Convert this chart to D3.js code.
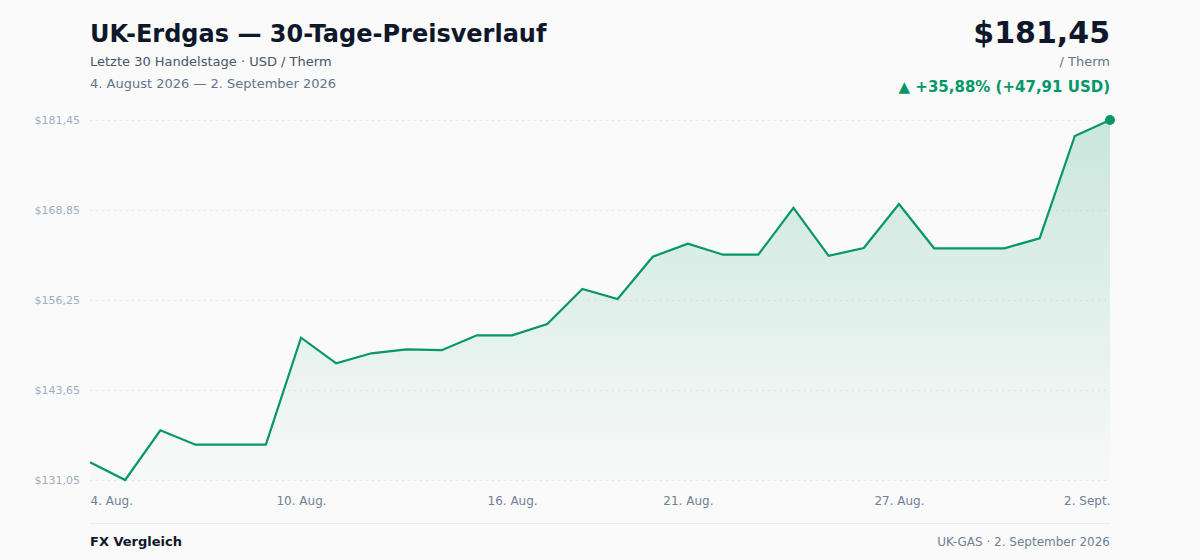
<!DOCTYPE html>
<html>
<head>
<meta charset="utf-8">
<script src="https://cdn.jsdelivr.net/npm/d3@7"></script>
<style>
  html, body { margin: 0; padding: 0; background: #fafafa; }
  svg { display: block; font-family: "DejaVu Sans", sans-serif; }
</style>
</head>
<body>
<svg id="chart"></svg>
<script>
// 30 Handelstage, 4. Aug. bis 2. Sept. 2026
var days = ["4. Aug.", "5. Aug.", "6. Aug.", "7. Aug.", "8. Aug.", "9. Aug.", "10. Aug.",
  "11. Aug.", "12. Aug.", "13. Aug.", "14. Aug.", "15. Aug.", "16. Aug.", "17. Aug.",
  "18. Aug.", "19. Aug.", "20. Aug.", "21. Aug.", "22. Aug.", "23. Aug.", "24. Aug.",
  "25. Aug.", "26. Aug.", "27. Aug.", "28. Aug.", "29. Aug.", "30. Aug.", "31. Aug.",
  "1. Sept.", "2. Sept."];

var prices = [133.54, 131.05, 138.01, 135.99, 135.99, 135.99, 150.97,
  147.39, 148.79, 149.35, 149.22, 151.31, 151.31, 152.89,
  157.79, 156.39, 162.31, 164.13, 162.59, 162.59, 169.16,
  162.44, 163.53, 169.69, 163.49, 163.49, 163.49, 164.89,
  179.21, 181.45];

var xTickLabels = ["4. Aug.", "10. Aug.", "16. Aug.", "21. Aug.", "27. Aug.", "2. Sept."];
var yTicks = [131.05, 143.65, 156.25, 168.85, 181.45];

var w = 1200;
var h = 560;
var plotLeft = 90, plotRight = 1110, plotTop = 120, plotBottom = 480;
var green = "#059669";

var fmt = function (v) { return v.toFixed(2).replace(".", ","); };

var svg = d3.select("#chart").attr("width", w).attr("height", h);

var xScale = d3.scalePoint().domain(days).range([plotLeft, plotRight]);
var yScale = d3.scaleLinear().domain(d3.extent(prices)).range([plotBottom, plotTop]);

// Kopfzeile
svg.append("text").attr("x", 90).attr("y", 42)
  .attr("font-size", 24).attr("font-weight", "bold").attr("fill", "#0f172a")
  .text("UK-Erdgas — 30-Tage-Preisverlauf");
svg.append("text").attr("x", 90).attr("y", 66)
  .attr("font-size", 13).attr("fill", "#475569")
  .text("Letzte 30 Handelstage · USD / Therm");
svg.append("text").attr("x", 90).attr("y", 88)
  .attr("font-size", 13).attr("fill", "#64748b")
  .text("4. August 2026 — 2. September 2026");

var last = prices[prices.length - 1];
var first = prices[0];
var diff = last - first;
svg.append("text").attr("x", 1110).attr("y", 43).attr("text-anchor", "end")
  .attr("font-size", 30).attr("font-weight", "bold").attr("fill", "#0f172a")
  .text("$" + fmt(last));
svg.append("text").attr("x", 1110).attr("y", 66).attr("text-anchor", "end")
  .attr("font-size", 13).attr("fill", "#64748b")
  .text("/ Therm");
svg.append("text").attr("x", 1110).attr("y", 92).attr("text-anchor", "end")
  .attr("font-size", 15).attr("font-weight", "bold").attr("fill", green)
  .text("▲ +" + fmt(diff / first * 100) + "% (+" + fmt(diff) + " USD)");

// Verlauf fuer die Flaeche
var defs = svg.append("defs");
var grad = defs.append("linearGradient").attr("id", "fill")
  .attr("x1", 0).attr("y1", 0).attr("x2", 0).attr("y2", 1);
grad.append("stop").attr("offset", "0%").attr("stop-color", green).attr("stop-opacity", 0.2);
grad.append("stop").attr("offset", "100%").attr("stop-color", green).attr("stop-opacity", 0.01);

// Gitter
var yAxis = d3.axisLeft(yScale).tickValues(yTicks)
  .tickSize(-(plotRight - plotLeft)).tickPadding(10)
  .tickFormat(function (d) { return "$" + fmt(d); });
var gy = svg.append("g").attr("transform", "translate(" + plotLeft + ",0)").call(yAxis);
gy.select(".domain").remove();
gy.selectAll(".tick line").attr("stroke", "#e6e8eb").attr("stroke-dasharray", "2,4");
gy.selectAll(".tick text").attr("fill", "#a0aec0").attr("font-size", 11)
  .attr("font-family", "DejaVu Sans, sans-serif");

// Flaeche und Linie
var area = d3.area()
  .x(function (d, i) { return xScale(days[i]); })
  .y0(plotBottom)
  .y1(function (d) { return yScale(d); });
var line = d3.line()
  .x(function (d, i) { return xScale(days[i]); })
  .y(function (d) { return yScale(d); });

svg.append("path").datum(prices).attr("d", area).attr("fill", "url(#fill)");
svg.append("path").datum(prices).attr("d", line)
  .attr("fill", "none").attr("stroke", green).attr("stroke-width", 2.2)
  .attr("stroke-linejoin", "miter");

svg.append("circle")
  .attr("cx", xScale(days[days.length - 1]))
  .attr("cy", yScale(last))
  .attr("r", 5).attr("fill", green);

// X-Achse
var xAxis = d3.axisBottom(xScale).tickValues(xTickLabels).tickSize(0).tickPadding(16);
var gx = svg.append("g").attr("transform", "translate(0," + plotBottom + ")").call(xAxis);
gx.select(".domain").remove();
gx.selectAll(".tick text").attr("fill", "#718096").attr("font-size", 12)
  .attr("font-family", "DejaVu Sans, sans-serif")
  .attr("text-anchor", function (d, i) {
    if (i == 0) return "start";
    if (i == xTickLabels.length - 1) return "end";
    return "middle";
  });

// Fusszeile
svg.append("line").attr("x1", 90).attr("x2", 1110).attr("y1", 523.5).attr("y2", 523.5)
  .attr("stroke", "#ececec").attr("stroke-width", 1);
svg.append("text").attr("x", 90).attr("y", 546)
  .attr("font-size", 13).attr("font-weight", "bold").attr("fill", "#0f172a")
  .text("FX Vergleich");
svg.append("text").attr("x", 1110).attr("y", 546).attr("text-anchor", "end")
  .attr("font-size", 12).attr("fill", "#718096")
  .text("UK-GAS · 2. September 2026");
</script>
</body>
</html>
